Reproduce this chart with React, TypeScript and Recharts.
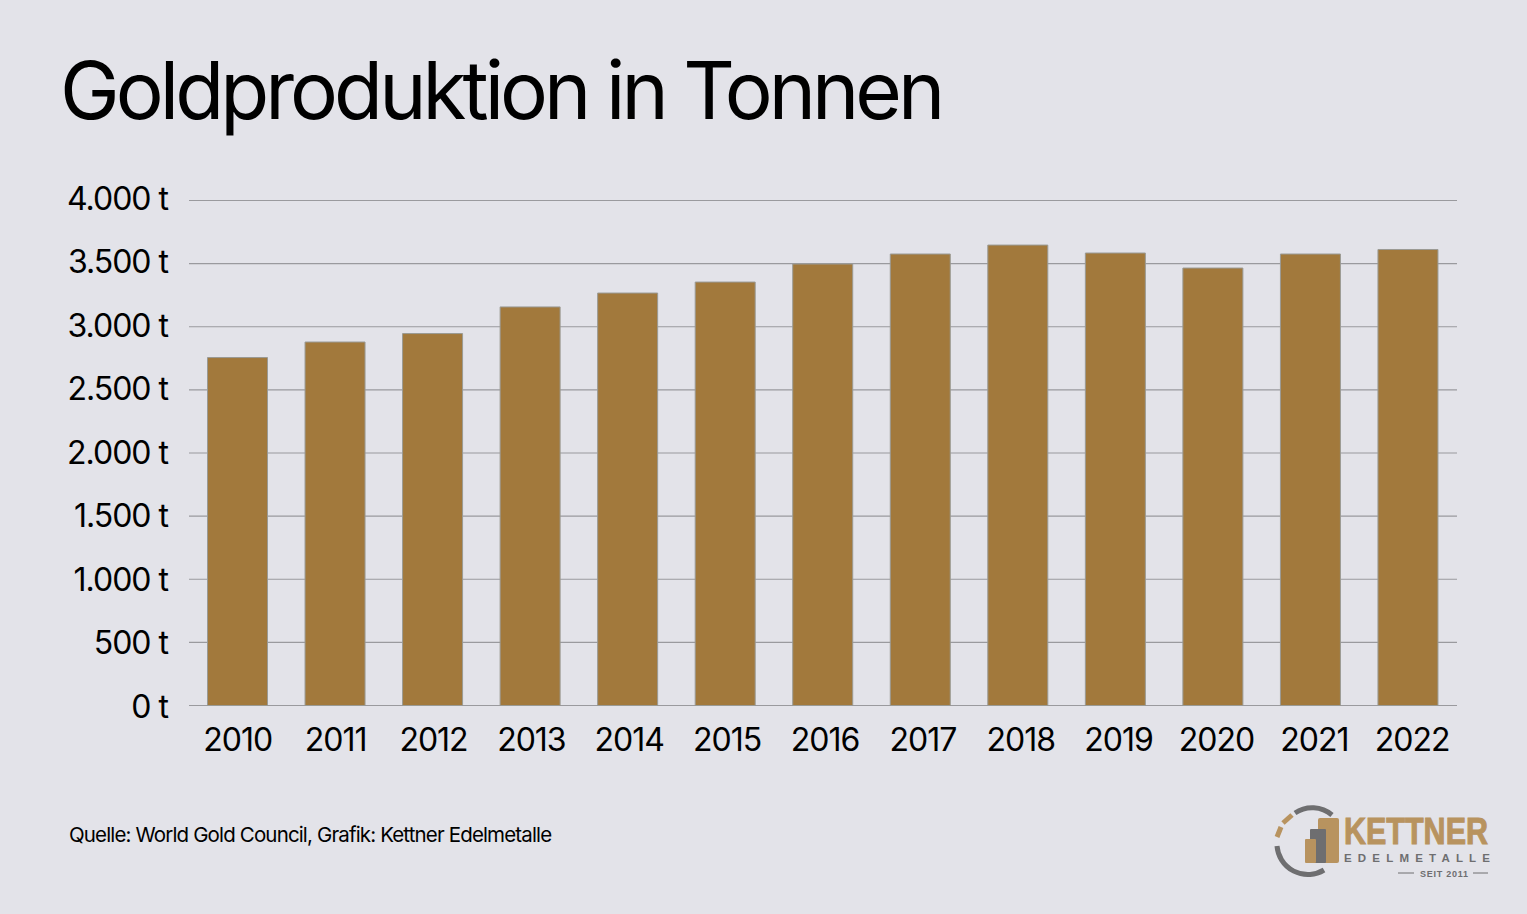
import React from 'react'
import { Bar, BarChart, CartesianGrid, XAxis, YAxis } from 'recharts'

const years = ['2010', '2011', '2012', '2013', '2014', '2015', '2016', '2017', '2018', '2019', '2020', '2021', '2022']
const production = [2756, 2879, 2946, 3157, 3267, 3354, 3497, 3576, 3647, 3584, 3465, 3576, 3612]
const yTicks = [0, 500, 1000, 1500, 2000, 2500, 3000, 3500, 4000]

const data = years.map((year, i) => ({ year, production: production[i] }))
const font = 'Inter, sans-serif'
const gold = '#a2793c'
const logoGold = '#b8935f'
const logoGrey = '#6e6e70'

// 4000 -> "4.000 t"
const formatTons = (value: number) => `${value.toLocaleString('de-DE')} t`

// the labels in the picture drift a little against the grid, so nudge them by tick
function YTick({ x, y, payload }: any) {
  const nudge = 0.5 - 3 * (payload.value / 4000)
  return (
    <text x={x} y={y + nudge} dy="0.3635em" textAnchor="end" fill="#000" fontSize={32} fontFamily={font} letterSpacing={-1}>
      {formatTons(payload.value)}
    </text>
  )
}

function XTick({ x, y, payload, index }: any) {
  return (
    <text x={x + 0.5 + index * 0.33} y={y} dy={29.5} textAnchor="middle" fill="#000" fontSize={32} fontFamily={font} letterSpacing={-1}>
      {payload.value}
    </text>
  )
}

function Logo() {
  return (
    <svg width={1527} height={914} style={{ position: 'absolute', left: 0, top: 0, pointerEvents: 'none' }}>
      <path d="M1295 813 A31 31 0 0 1 1332 815" fill="none" stroke={logoGrey} strokeWidth={5} />
      <path d="M1277 846 A31 31 0 0 0 1324 870" fill="none" stroke={logoGrey} strokeWidth={5} />
      <path d="M1283 823 L1292 815" fill="none" stroke={logoGold} strokeWidth={5} />
      <path d="M1277 837 L1281 827" fill="none" stroke={logoGold} strokeWidth={5} />
      <rect x={1318} y={818} width={21} height={45} rx={2} fill={logoGold} />
      <rect x={1310} y={829} width={16} height={34} rx={1} fill={logoGrey} />
      <rect x={1305} y={839} width={11} height={24} rx={1} fill={logoGold} />
      <text x={1344} y={844} fontFamily="'Liberation Sans Narrow', 'Liberation Sans'" fontWeight={700} fontSize={36} textLength={144} lengthAdjust="spacingAndGlyphs" fill={logoGold} stroke={logoGold} strokeWidth={1}>KETTNER</text>
      <text x={1344} y={862} fontFamily="'Liberation Sans'" fontWeight={700} fontSize={11.5} textLength={146} fill={logoGrey}>EDELMETALLE</text>
      <text x={1420} y={876.5} fontFamily="'Liberation Sans'" fontWeight={700} fontSize={9} textLength={48} fill={logoGrey}>SEIT 2011</text>
      <line x1={1398} x2={1414} y1={873} y2={873} stroke={logoGrey} strokeWidth={1} />
      <line x1={1473} x2={1488} y1={873} y2={873} stroke={logoGrey} strokeWidth={1} />
    </svg>
  )
}

export default function App() {
  return (
    <div style={{ position: 'absolute', left: 0, top: 0, width: 1527, height: 914, background: '#e3e3e9', overflow: 'hidden', fontFamily: font }}>
      <div style={{ position: 'absolute', left: 60, top: 41, fontSize: 80, lineHeight: '97px', letterSpacing: -3.95, color: '#000', whiteSpace: 'nowrap' }}>
        Goldproduktion in Tonnen
      </div>
      <BarChart
        width={1527}
        height={914}
        data={data}
        margin={{ top: 200.5, right: 70, bottom: 168.5, left: 0 }}
      >
        <CartesianGrid horizontal vertical={false} stroke="#9a9a9e" strokeWidth={1.2} />
        <XAxis
          dataKey="year"
          height={40}
          padding={{ left: -0.5, right: 0.5 }}
          tickLine={false}
          axisLine={false}
          interval={0}
          tickSize={0}
          tickMargin={16}
          tick={XTick}
        />
        <YAxis
          width={189}
          domain={[0, 4000]}
          ticks={yTicks}
          tickLine={false}
          axisLine={false}
          tickSize={0}
          tickMargin={21}
          tick={YTick}
        />
        <Bar dataKey="production" fill={gold} stroke="#9a9a94" strokeWidth={1} barSize={60} isAnimationActive={false} />
      </BarChart>
      <div style={{ position: 'absolute', left: 69, top: 822, fontSize: 20.5, lineHeight: '25px', letterSpacing: -0.85, color: '#000', whiteSpace: 'nowrap' }}>
        Quelle: World Gold Council, Grafik: Kettner Edelmetalle
      </div>
      <Logo />
    </div>
  )
}
